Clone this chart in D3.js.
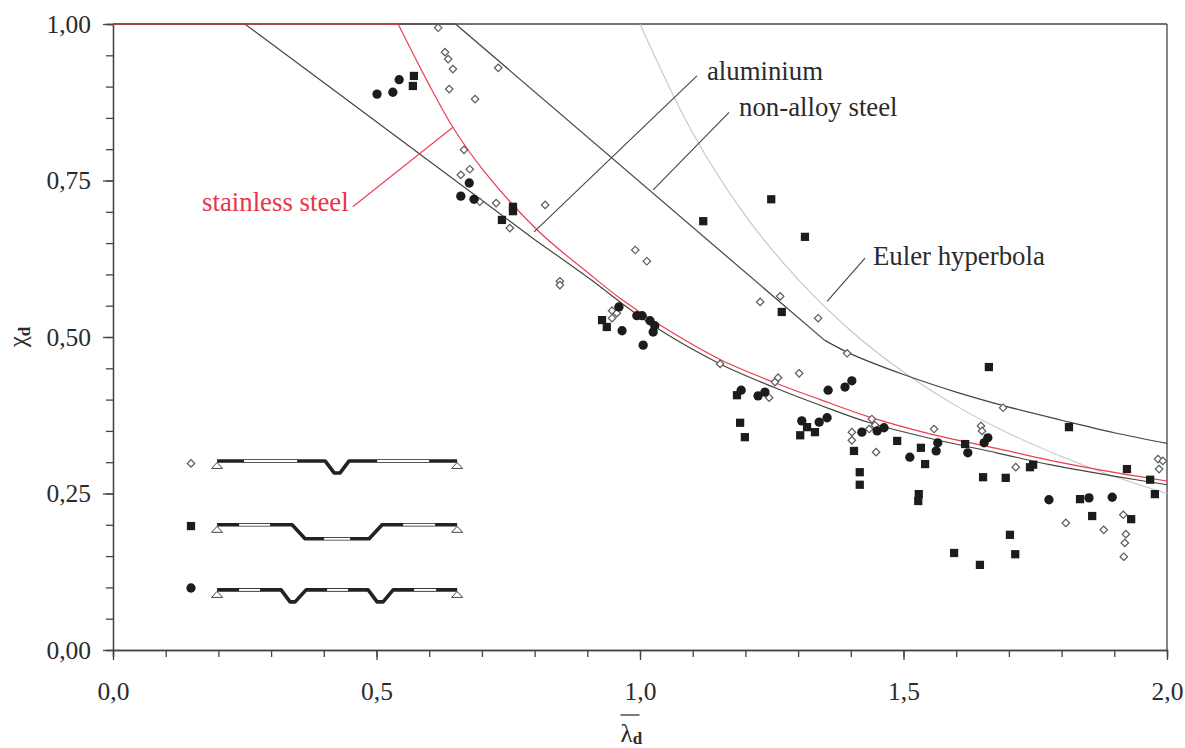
<!DOCTYPE html>
<html>
<head>
<meta charset="utf-8">
<script src="https://d3js.org/d3.v7.min.js"></script>
<style>
  html, body { margin: 0; padding: 0; background: #fff; overflow: hidden; }
  text { font-family: "Liberation Serif", serif; fill: #2b2b2b; }
  .axis path, .axis line { stroke: #444; stroke-width: 1.3; }
</style>
</head>
<body>
<script>
// curves as [lambda, chi]
var plateau = [[0, 1], [0.65, 1]];
var aluminium = [[0, 1], [0.25, 1], [0.431, 0.887], [0.801, 0.655]];
var aluminiumTail = [[0.801, 0.655], [0.911, 0.589], [0.962, 0.556], [1.038, 0.511], [1.152, 0.457], [1.256, 0.419],
  [1.342, 0.391], [1.436, 0.363], [1.556, 0.337], [1.677, 0.315], [1.778, 0.296], [1.905, 0.277], [2.0, 0.264]];
var stainlessFlat = [[0, 1], [0.541, 1]];
var stainless = [[0.541, 1], [0.598, 0.906], [0.645, 0.835], [0.702, 0.767], [0.805, 0.671], [0.911, 0.596], [0.962, 0.562],
  [1.038, 0.519], [1.152, 0.464], [1.256, 0.427], [1.342, 0.400], [1.436, 0.372], [1.556, 0.344], [1.677, 0.322],
  [1.778, 0.303], [1.905, 0.283], [2.0, 0.270]];
var nonAlloyLinear = [[0.65, 1], [1.35, 0.495]];
var nonAlloyTail = [[1.35, 0.495], [1.4, 0.473], [1.5, 0.44], [1.6, 0.412], [1.7, 0.388], [1.8, 0.367], [1.9, 0.347], [2.0, 0.33]];
var euler = [[1.0, 1.0], [1.1, 0.826], [1.2, 0.694], [1.3, 0.592], [1.4, 0.51], [1.5, 0.444], [1.6, 0.39], [1.7, 0.346],
  [1.8, 0.309], [1.9, 0.277], [2.0, 0.25]];

// test results
var diamonds = [[0.617, 0.994], [0.630, 0.955], [0.636, 0.944], [0.645, 0.928], [0.731, 0.930], [0.638, 0.896], [0.687, 0.880],
  [0.666, 0.799], [0.677, 0.768], [0.660, 0.759], [0.696, 0.716], [0.727, 0.714], [0.820, 0.711], [0.753, 0.674],
  [0.848, 0.589], [0.848, 0.583], [0.991, 0.639], [1.013, 0.621], [0.947, 0.542], [0.956, 0.538], [0.947, 0.530],
  [1.152, 0.457], [1.228, 0.556], [1.266, 0.565], [1.338, 0.530], [1.393, 0.474], [1.262, 0.435], [1.256, 0.428],
  [1.302, 0.442], [1.245, 0.403], [1.440, 0.369], [1.446, 0.359], [1.435, 0.353], [1.402, 0.348], [1.402, 0.335],
  [1.448, 0.316], [1.558, 0.353], [1.647, 0.358], [1.649, 0.350], [1.713, 0.292], [1.689, 0.387], [1.808, 0.203],
  [1.880, 0.192], [1.917, 0.216], [1.922, 0.185], [1.920, 0.171], [1.918, 0.149], [1.983, 0.305], [1.992, 0.302], [1.985, 0.289]];
var squares = [[0.571, 0.917], [0.569, 0.901], [0.759, 0.708], [0.759, 0.701], [0.738, 0.687], [1.120, 0.685], [1.249, 0.720],
  [1.313, 0.660], [1.269, 0.540], [1.662, 0.452], [0.928, 0.527], [0.937, 0.516], [1.184, 0.407], [1.190, 0.363],
  [1.199, 0.340], [1.304, 0.343], [1.317, 0.356], [1.332, 0.348], [1.406, 0.318], [1.417, 0.284], [1.417, 0.264],
  [1.488, 0.334], [1.533, 0.323], [1.541, 0.297], [1.529, 0.249], [1.528, 0.238], [1.814, 0.356], [1.617, 0.329],
  [1.651, 0.276], [1.694, 0.275], [1.740, 0.292], [1.746, 0.296], [1.924, 0.289], [1.968, 0.272], [1.977, 0.249],
  [1.835, 0.241], [1.858, 0.214], [1.932, 0.209], [1.702, 0.184], [1.712, 0.153], [1.596, 0.155], [1.645, 0.136]];
var circles = [[0.543, 0.911], [0.531, 0.891], [0.501, 0.888], [0.676, 0.746], [0.660, 0.725], [0.685, 0.720], [0.960, 0.548],
  [0.994, 0.534], [1.004, 0.534], [1.019, 0.526], [1.028, 0.518], [1.025, 0.508], [0.966, 0.510], [1.006, 0.487],
  [1.192, 0.415], [1.224, 0.406], [1.237, 0.412], [1.357, 0.415], [1.389, 0.420], [1.402, 0.430], [1.307, 0.366],
  [1.340, 0.364], [1.355, 0.371], [1.421, 0.348], [1.450, 0.350], [1.463, 0.355], [1.512, 0.308], [1.562, 0.318],
  [1.565, 0.331], [1.622, 0.315], [1.653, 0.331], [1.660, 0.339], [1.776, 0.240], [1.852, 0.243], [1.896, 0.244]];

// labels and their leader lines
var labelNames = ["aluminium", "non-alloy steel", "Euler hyperbola", "stainless steel"];
var labelColors = ["#2b2b2b", "#2b2b2b", "#2b2b2b", "#e8354a"];
var labelAnchors = [[1.127, 0.911], [1.188, 0.853], [1.442, 0.615], [0.169, 0.701]];
var leaders = [
  [[0.799, 0.668], [1.108, 0.917]],
  [[1.025, 0.735], [1.169, 0.859]],
  [[1.355, 0.557], [1.427, 0.626]],
  [[0.455, 0.708], [0.645, 0.835]]
];

// legend: section sketches, along the beam 0-240, depth 0-14
var legendChi = [0.298, 0.198, 0.099];
var sketchChi = [0.302, 0.2, 0.096];
var legendLambda = 0.148;
var profiles = [
  [[0, 0], [108, 0], [117, 12], [123, 12], [132, 0], [240, 0]],
  [[0, 0], [75, 0], [88, 14], [152, 14], [165, 0], [240, 0]],
  [[0, 0], [64, 0], [73, 12], [78, 12], [89, 0], [151, 0], [160, 12], [166, 12], [176, 0], [240, 0]]
];
var slots = [
  [[27, 80, 0], [160, 212, 0]],
  [[22, 53, 0], [107, 133, 14], [186, 218, 0]],
  [[22, 43, 0], [110, 131, 0], [197, 219, 0]]
];

var width = 1185, height = 748;
var margin = {top: 24, right: 18, bottom: 98, left: 113};
var innerW = width - margin.left - margin.right,
    innerH = height - margin.top - margin.bottom;

var x = d3.scaleLinear().domain([0, 2]).range([margin.left, margin.left + innerW]),
    y = d3.scaleLinear().domain([0, 1]).range([margin.top + innerH, margin.top]);

var svg = d3.select("body").append("svg")
    .attr("width", width)
    .attr("height", height)
    .style("display", "block");

var comma = function(f) { return function(d) { return d3.format(f)(d).replace(".", ","); }; };

// axes, minor ticks first
svg.append("g").attr("class", "axis")
    .attr("transform", "translate(0," + y(0) + ")")
    .call(d3.axisBottom(x).tickValues(d3.range(0, 21).map(function(i) { return i / 10; })).tickSize(7).tickFormat(""));
svg.append("g").attr("class", "axis")
    .attr("transform", "translate(0," + y(0) + ")")
    .call(d3.axisBottom(x).tickValues([0, 0.5, 1, 1.5, 2]).tickSize(10).tickSizeOuter(0).tickPadding(22).tickFormat(comma(".1f")))
    .call(function(g) { g.selectAll("text").style("font-size", "25.5px").style("font-family", "Liberation Serif").attr("fill", "#2b2b2b"); });
svg.append("g").attr("class", "axis")
    .attr("transform", "translate(" + x(0) + ",0)")
    .call(d3.axisLeft(y).tickValues(d3.range(0, 21).map(function(i) { return i / 20; })).tickSize(7).tickFormat(""));
svg.append("g").attr("class", "axis")
    .attr("transform", "translate(" + x(0) + ",0)")
    .call(d3.axisLeft(y).tickValues([0, 0.25, 0.5, 0.75, 1]).tickSize(10).tickSizeOuter(0).tickPadding(12).tickFormat(comma(".2f")))
    .call(function(g) { g.selectAll("text").style("font-size", "25.5px").style("font-family", "Liberation Serif").attr("fill", "#2b2b2b"); });

// frame: top and right edges
svg.append("line").attr("x1", x(0)).attr("x2", x(2)).attr("y1", y(1)).attr("y2", y(1)).attr("stroke", "#444").attr("stroke-width", 1.3);
svg.append("line").attr("x1", x(2)).attr("x2", x(2)).attr("y1", y(1)).attr("y2", y(0)).attr("stroke", "#444").attr("stroke-width", 1.3);

// curves
var straight = d3.line().x(function(d) { return x(d[0]); }).y(function(d) { return y(d[1]); });
var smooth = d3.line().curve(d3.curveCatmullRom).x(function(d) { return x(d[0]); }).y(function(d) { return y(d[1]); });

function curve(gen, data, color, w) {
  svg.append("path").attr("d", gen(data)).attr("fill", "none").attr("stroke", color).attr("stroke-width", w);
}
curve(straight, plateau, "#444", 1.2);
curve(smooth, euler, "#c6c6c6", 1.1);
curve(straight, aluminium, "#444", 1.2);
curve(smooth, aluminiumTail, "#444", 1.2);
curve(straight, nonAlloyLinear, "#444", 1.2);
curve(smooth, nonAlloyTail, "#444", 1.2);
curve(straight, stainlessFlat, "#ee3d4f", 1.2);
curve(smooth, stainless, "#ee3d4f", 1.2);

// leaders and labels
leaders.forEach(function(l, i) {
  curve(straight, l, i === 3 ? "#ee3d4f" : "#444", 1.1);
});
svg.selectAll(".label")
    .data(labelNames)
  .enter().append("text")
    .attr("class", "label")
    .attr("x", function(d, i) { return x(labelAnchors[i][0]); })
    .attr("y", function(d, i) { return y(labelAnchors[i][1]); })
    .style("font-size", "26.8px")
    .style("fill", function(d, i) { return labelColors[i]; })
    .text(function(d) { return d; });

// axis titles
var ylab = svg.append("text")
    .attr("transform", "translate(" + (x(0) - 87) + "," + y(0.5) + ") rotate(-90)")
    .attr("text-anchor", "middle")
    .style("font-size", "25px");
ylab.append("tspan").text("χ");
ylab.append("tspan").attr("dy", 4).style("font-size", "17px").style("font-weight", "bold").text("d");

var xlab = svg.append("text")
    .attr("x", x(0.963))
    .attr("y", height - 6)
    .style("font-size", "25px");
xlab.append("tspan").text("λ");
xlab.append("tspan").attr("dy", 1.5).style("font-size", "17px").style("font-weight", "bold").text("d");
svg.append("line")
    .attr("x1", x(0.963)).attr("x2", x(0.999))
    .attr("y1", y(0) + 65).attr("y2", y(0) + 65)
    .attr("stroke", "#333").attr("stroke-width", 1.3);

// points
var squarePath = d3.symbol().type(d3.symbolSquare),
    circlePath = d3.symbol().type(d3.symbolCircle);

function drawDiamonds(data) {
  svg.append("g").selectAll("path").data(data).enter().append("path")
      .attr("d", squarePath.size(28)())
      .attr("transform", function(d) { return "translate(" + x(d[0]) + "," + y(d[1]) + ") rotate(45)"; })
      .attr("fill", "#fff").attr("stroke", "#5a5a5a").attr("stroke-width", 1.2);
}
function drawSquares(data) {
  svg.append("g").selectAll("path").data(data).enter().append("path")
      .attr("d", squarePath.size(68)())
      .attr("transform", function(d) { return "translate(" + x(d[0]) + "," + y(d[1]) + ")"; })
      .attr("fill", "#1c1c1c");
}
function drawCircles(data) {
  svg.append("g").selectAll("path").data(data).enter().append("path")
      .attr("d", circlePath.size(68)())
      .attr("transform", function(d) { return "translate(" + x(d[0]) + "," + y(d[1]) + ")"; })
      .attr("fill", "#1c1c1c");
}
drawDiamonds(diamonds);
drawSquares(squares);
drawCircles(circles);

// legend
drawDiamonds([[legendLambda, legendChi[0]]]);
drawSquares([[legendLambda, legendChi[1]]]);
drawCircles([[legendLambda, legendChi[2]]]);

var sx = d3.scaleLinear().domain([0, 240]).range([x(0.1975), x(0.653)]);
var sy = d3.scaleLinear().domain([0, 14]).range([0, 14]);
var beam = d3.line().x(function(d) { return sx(d[0]); }).y(function(d) { return sy(d[1]); });

profiles.forEach(function(p, i) {
  var g = svg.append("g").attr("transform", "translate(0," + y(sketchChi[i]) + ")");
  g.append("path").attr("d", beam(p)).attr("fill", "none").attr("stroke", "#222").attr("stroke-width", 3.6).attr("stroke-linejoin", "round");
  g.selectAll(".slot").data(slots[i]).enter().append("line")
      .attr("class", "slot")
      .attr("x1", function(d) { return sx(d[0]); })
      .attr("x2", function(d) { return sx(d[1]); })
      .attr("y1", function(d) { return sy(d[2]); })
      .attr("y2", function(d) { return sy(d[2]); })
      .attr("stroke", "#fff").attr("stroke-width", 2);
  g.selectAll(".support").data([0, 240]).enter().append("path")
      .attr("class", "support")
      .attr("d", "M0,1.5L5.5,7.5H-5.5Z")
      .attr("transform", function(d) { return "translate(" + sx(d) + ",0)"; })
      .attr("fill", "#fff").attr("stroke", "#444").attr("stroke-width", 1);
});
</script>
</body>
</html>
